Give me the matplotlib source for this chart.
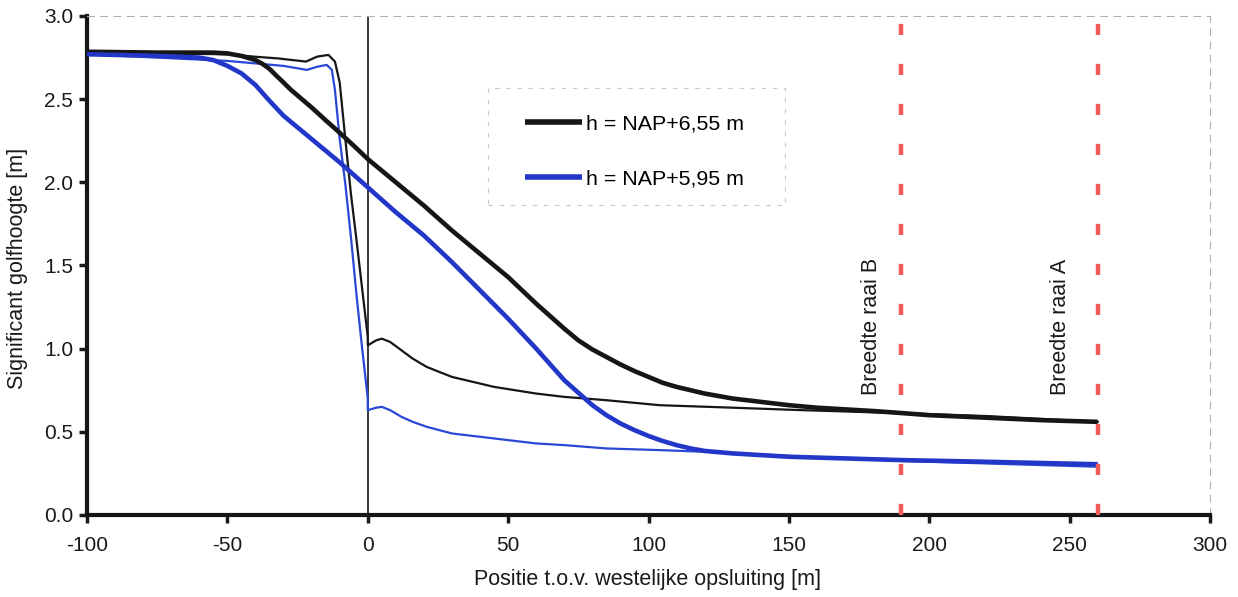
import matplotlib
matplotlib.use("Agg")
import matplotlib.pyplot as plt
from matplotlib.patches import Rectangle

plt.rcParams['font.family'] = ['Liberation Sans', 'DejaVu Sans']

# Thick black: h = NAP+6,55 m
x_a_thick = [-100, -75, -55, -50, -45, -40, -37.5, -35, -32.5, -30, -27.5, -25, -20, -15, -10, -5, 0, 10,
             20, 30, 40, 50, 60, 70, 75, 80, 85, 90, 95, 100, 105, 110, 120, 130, 140, 150, 160, 170, 180,
             190, 200, 220, 240, 260]
y_a_thick = [2.785, 2.78, 2.78, 2.775, 2.76, 2.735, 2.712, 2.682, 2.64, 2.60, 2.558, 2.522, 2.45, 2.373,
             2.298, 2.22, 2.14, 2.00, 1.86, 1.71, 1.57, 1.43, 1.27, 1.12, 1.05, 0.995, 0.95, 0.905, 0.865,
             0.83, 0.795, 0.77, 0.73, 0.70, 0.68, 0.66, 0.645, 0.635, 0.625, 0.613, 0.60, 0.585, 0.57, 0.56]

# Thick blue: h = NAP+5,95 m
x_b_thick = [-100, -75, -60, -55, -50, -45, -40, -35, -30, -25, -20, -15, -10, -5, 0, 10, 20, 30, 40,
             50, 60, 70, 80, 85, 90, 95, 100, 105, 110, 115, 120, 130, 140, 150, 170, 190, 220, 260]
y_b_thick = [2.77, 2.76, 2.75, 2.735, 2.70, 2.655, 2.585, 2.49, 2.40, 2.33, 2.26, 2.19, 2.12, 2.045, 1.97,
             1.82, 1.68, 1.52, 1.35, 1.18, 1.00, 0.81, 0.66, 0.60, 0.55, 0.51, 0.475, 0.445, 0.42, 0.40,
             0.385, 0.37, 0.36, 0.35, 0.34, 0.33, 0.32, 0.305]

# Thin black (second variant, h = NAP+6,55 m)
x_a_thin = [-100, -50, -40, -32, -22, -18, -14, -11.7, -10, -8, -6, -4, -2, 0, 0.01, 3, 5, 8,
            12, 16, 21, 30, 45, 60, 70, 85, 104, 130, 155, 190, 220, 260]
y_a_thin = [2.78, 2.77, 2.755, 2.745, 2.726, 2.756, 2.766, 2.726, 2.60, 2.26, 1.93, 1.65, 1.36,
            1.07, 1.02, 1.05, 1.06, 1.04, 0.99, 0.94, 0.89, 0.83, 0.77, 0.73, 0.71, 0.69, 0.66, 0.645,
            0.63, 0.612, 0.595, 0.56]

# Thin blue (second variant, h = NAP+5,95 m)
x_b_thin = [-100, -50, -40, -30, -21.7, -18, -14.6, -12.8, -11.7, -10, -8, -6, -4, -2, 0, 0.01, 3, 5, 8,
            12, 16, 21, 30, 45, 60, 70, 85, 104, 120, 150, 190, 220, 260]
y_b_thin = [2.77, 2.73, 2.715, 2.70, 2.676, 2.695, 2.706, 2.676, 2.556, 2.26, 1.99, 1.67, 1.32, 1.00,
            0.70, 0.63, 0.645, 0.65, 0.63, 0.59, 0.56, 0.53, 0.49, 0.46, 0.43, 0.42, 0.40, 0.39, 0.38,
            0.355, 0.325, 0.31, 0.29]

legend_labels = ['h = NAP+6,55 m', 'h = NAP+5,95 m']
raai_x = [190, 260]
raai_labels = ['Breedte raai B', 'Breedte raai A']
raai_text_x = [179.3, 246.6]
xticks = [-100, -50, 0, 50, 100, 150, 200, 250, 300]
yticks = [0.0, 0.5, 1.0, 1.5, 2.0, 2.5, 3.0]

BLACK = '#161616'
BLUE = '#2236c8'
BLUE_THIN = '#2a48d6'
RED = '#f25a5a'
TXT = '#1a1a1a'

fig = plt.figure(figsize=(12.38, 5.97), dpi=100)
ax = fig.add_axes([0.0703, 0.1374, 0.9071, 0.8358])

ax.plot(x_a_thin, y_a_thin, color=BLACK, lw=1.6, zorder=3)
ax.plot(x_b_thin, y_b_thin, color=BLUE_THIN, lw=1.6, zorder=3)
la, = ax.plot(x_a_thick, y_a_thick, color=BLACK, lw=3.3, zorder=4, solid_capstyle='butt')
lb, = ax.plot(x_b_thick, y_b_thick, color=BLUE, lw=3.3, zorder=4, solid_capstyle='butt')

ax.axvline(0, color=BLACK, lw=1.2, zorder=2)
for xr in raai_x:
    ax.axvline(xr, color=RED, lw=3.2, linestyle=(0, (2.5, 6.5)), zorder=5)
for xt, lab in zip(raai_text_x, raai_labels):
    ax.text(xt, 0.72, lab, rotation=90, ha='center', va='bottom', fontsize=15.5, color=TXT)

ax.set_xlim(-100, 300)
ax.set_ylim(0, 3)
ax.set_xticks(xticks)
ax.set_yticks(yticks)
ax.set_xticklabels([str(t) for t in xticks])
ax.set_yticklabels([f'{t:.1f}' for t in yticks])
ax.tick_params(axis='both', direction='out', length=6, width=2.5, labelsize=15, colors=TXT)
ax.tick_params(axis='x', pad=9)
ax.tick_params(axis='y', pad=4)

for s in ['left', 'bottom']:
    ax.spines[s].set_linewidth(3)
    ax.spines[s].set_color(BLACK)
for s in ['top', 'right']:
    ax.spines[s].set_linewidth(0.8)
    ax.spines[s].set_color('#b0b0b0')
    ax.spines[s].set_linestyle((0, (6, 6)))

fig.text(648 / 1238, 1 - 580 / 597, 'Positie t.o.v. westelijke opsluiting [m]', fontsize=15.5,
         ha='center', va='center', color=TXT)
fig.text(18 / 1238, 1 - 268 / 597, 'Significant golfhoogte [m]', fontsize=15.5, rotation=90,
         ha='center', va='center', color=TXT)

# legend frame (dashed light grey box)
ax.add_patch(Rectangle((0.357, 0.6212), 0.2645, 0.2345, transform=ax.transAxes, facecolor='white',
                       edgecolor='#c8c8c8', lw=0.8, linestyle=(0, (4, 6)), zorder=6))
leg = ax.legend([la, lb], legend_labels, loc='upper left', bbox_to_anchor=(0.390, 0.803),
                fontsize=15.4, handlelength=2.65, handletextpad=0.22, labelspacing=1.71,
                borderpad=0, frameon=False, borderaxespad=0)
leg.set_zorder(7)
for h in leg.legend_handles:
    h.set_linewidth(4)

fig.savefig('out.png', dpi=100)
